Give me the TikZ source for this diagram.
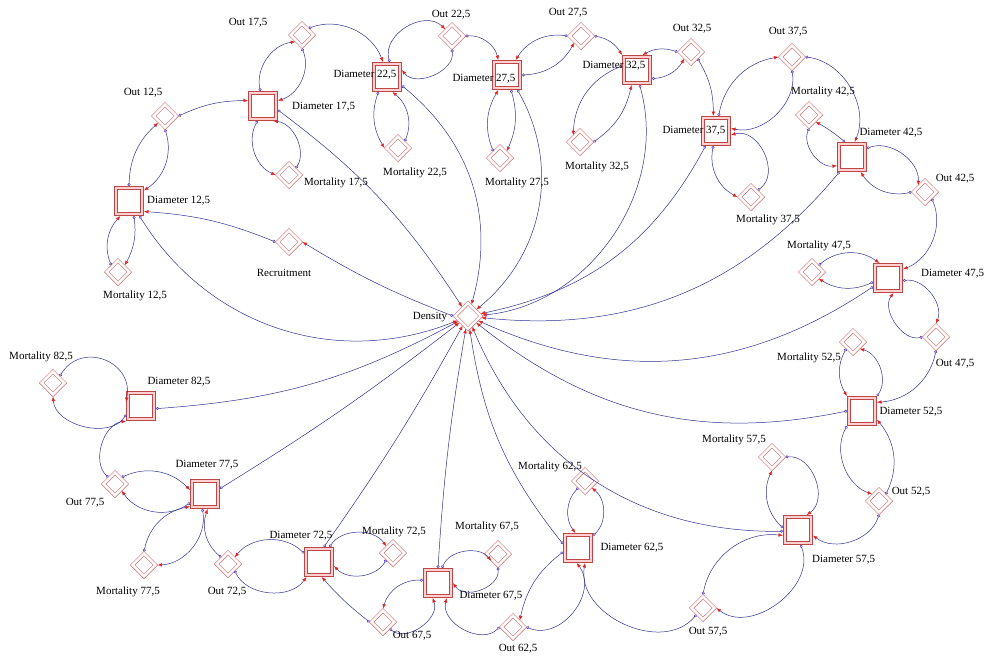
\documentclass[tikz,border=0pt]{standalone}
\usepackage{fontspec}
\setmainfont{Liberation Serif}
\usetikzlibrary{arrows.meta,shapes.geometric}
\definecolor{lblue}{RGB}{50,50,145}
\definecolor{cblue}{RGB}{90,70,190}
\definecolor{ared}{RGB}{225,35,35}
\definecolor{sqred}{RGB}{190,70,70}
\definecolor{dmred}{RGB}{212,108,108}
\begin{document}
\begin{tikzpicture}[x=1pt,y=-1pt,
 stockbox/.style={rectangle,draw=sqred,line width=0.9pt,double=red!18,double distance=1.8pt,minimum size=26pt,inner sep=0pt,fill=white,outer sep=2pt},
 auxdia/.style={diamond,aspect=1,draw=dmred,line width=0.65pt,double=white,double distance=2.4pt,minimum size=24pt,inner sep=0pt,outer sep=1.5pt},
 lnk/.style={draw=lblue,line width=0.5pt,arrows={Circle[open,length=3pt,width=3pt,color=cblue,line width=0.6pt]-Latex[length=4.5pt,width=3.6pt,color=ared]}},
 lbl/.style={font=\fontsize{11}{12}\selectfont,inner sep=0pt}]
\useasboundingbox[fill=white] (0,0) rectangle (985,657);
% stocks
\node[stockbox] (D12) at (129,201) {};
\node[stockbox] (D17) at (263,106) {};
\node[stockbox] (D22) at (387,77) {};
\node[stockbox] (D27) at (507,75) {};
\node[stockbox] (D32) at (637,70) {};
\node[stockbox] (D37) at (716,131) {};
\node[stockbox] (D42) at (852,157) {};
\node[stockbox] (D47) at (888,278) {};
\node[stockbox] (D52) at (862,411) {};
\node[stockbox] (D57) at (798,530) {};
\node[stockbox] (D62) at (578,548) {};
\node[stockbox] (D67) at (438,583) {};
\node[stockbox] (D72) at (319,562) {};
\node[stockbox] (D77) at (205,494) {};
\node[stockbox] (D82) at (141,406) {};
% variables
\node[auxdia] (O12) at (165,116) {};
\node[auxdia] (M12) at (118,272) {};
\node[auxdia] (Rec) at (289,242) {};
\node[auxdia] (O17) at (302,35) {};
\node[auxdia] (M17) at (289,175) {};
\node[auxdia] (O22) at (452,36) {};
\node[auxdia] (M22) at (398,148) {};
\node[auxdia] (O27) at (581,36) {};
\node[auxdia] (M27) at (500,158) {};
\node[auxdia] (O32) at (691,52) {};
\node[auxdia] (M32) at (580,142) {};
\node[auxdia] (O37) at (792,57) {};
\node[auxdia] (M37) at (751,197) {};
\node[auxdia] (M42) at (809,115) {};
\node[auxdia] (O42) at (925,192) {};
\node[auxdia] (M47) at (812,272) {};
\node[auxdia] (O47) at (936,337) {};
\node[auxdia] (M52) at (853,342) {};
\node[auxdia] (O52) at (879,501) {};
\node[auxdia] (M57) at (772,457) {};
\node[auxdia] (O57) at (703,608) {};
\node[auxdia] (M62) at (585,481) {};
\node[auxdia] (O62) at (513,627) {};
\node[auxdia] (M67) at (498,554) {};
\node[auxdia] (O67) at (383,622) {};
\node[auxdia] (M72) at (393,553) {};
\node[auxdia] (O72) at (228,564) {};
\node[auxdia] (M77) at (144,565) {};
\node[auxdia] (O77) at (115,484) {};
\node[auxdia] (M82) at (53,383) {};
\node[auxdia,minimum size=27pt] (Den) at (468,316) {};
% connectors 12,5
\draw[lnk] (D12.north) to[bend left=23] (O12.south west);
\draw[lnk] (O12.south) to[bend left=37] (D12.35);
\draw[lnk] (M12.north west) to[bend left=32] (D12.240);
\draw[lnk] (D12.-72) to[bend left=18] (M12.north east);
\draw[lnk] (Rec.west) to[bend right=9] (D12.-35);
\draw[lnk] (D12.-55) to[bend right=40] (Den);
\draw[lnk] (Den.west) to[bend left=5] (Rec.east);
% 17,5
\draw[lnk] (O12.east) to[bend left=12] (D17.160);
\draw[lnk] (D17.100) to[bend left=47] (O17.south west);
\draw[lnk] (O17.south) to[bend left=48] (D17.20);
\draw[lnk] (D17.-110) to[bend right=48] (M17.west);
\draw[lnk] (M17.north east) to[bend right=58] (D17.-55);
\draw[lnk] (D17.-15) to[bend left=10] (Den);
\draw[lnk] (O17.north east) to[bend left=45] (D22.105);
% 22,5
\draw[lnk] (D22.80) to[bend left=75,looseness=1.15] (O22.north west);
\draw[lnk] (O22.south) to[bend left=75,looseness=1.05] (D22.25);
\draw[lnk] (D22.-120) to[bend right=25] (M22.west);
\draw[lnk] (M22.north east) to[bend right=37] (D22.-70);
\draw[lnk] (D22.-30) to[bend left=33] (Den);
\draw[lnk] (O22.east) to[bend left=40] (D27.120);
% 27,5
\draw[lnk] (O27.west) to[bend right=33] (D27.60);
\draw[lnk] (D27.east) to[bend right=29] (O27.south west);
\draw[lnk] (M27.north west) to[bend left=26] (D27.-120);
\draw[lnk] (D27.-75) to[bend left=20] (M27.north east);
\draw[lnk] (D27.-55) to[bend left=40] (Den);
\draw[lnk] (O27.east) to[bend left=24] (D32.north west);
% 32,5
\draw[lnk] (O32.west) to[bend right=24] (D32.70);
\draw[lnk] (D32.-30) to[bend right=27] (O32.south west);
\draw[lnk] (D32.165) to[bend right=33] (M32.north west);
\draw[lnk] (M32.east) to[bend right=21] (D32.-110);
\draw[lnk] (D32.-80) to[bend left=50] (Den);
\draw[lnk] (O32.south east) to[bend left=15] (D37.100);
% 37,5
\draw[lnk] (D37.80) to[bend left=35] (O37.west);
\draw[lnk] (O37.south) to[bend left=56] (D37.10);
\draw[lnk] (M37.north east) to[bend right=80,looseness=1.2] (D37.-15);
\draw[lnk] (D37.-100) to[bend right=37] (M37.west);
\draw[lnk] (D37.-125) to[bend left=25] (Den);
\draw[lnk] (O37.east) to[bend left=53] (D42.80);
% 42,5
\draw[lnk] (D42.115) to[bend right=5] (M42.south east);
\draw[lnk] (M42.south) to[bend right=60] (D42.-150);
\draw[lnk] (D42.30) to[bend left=57] (O42.north west);
\draw[lnk] (O42.west) to[bend left=35] (D42.-60);
\draw[lnk] (D42.-130) to[bend left=28] (Den);
\draw[lnk] (O42.south east) to[bend left=46] (D47.30);
% 47,5
\draw[lnk] (M47.north east) to[bend left=38] (D47.120);
\draw[lnk] (D47.-165) to[bend left=28] (M47.south east);
\draw[lnk] (D47.-10) to[bend left=60] (O47.north);
\draw[lnk] (O47.west) to[bend left=70] (D47.-70);
\draw[lnk] (D47.-150) to[bend left=29] (Den);
\draw[lnk] (O47.south) to[bend left=37] (D52.30);
% 52,5
\draw[lnk] (M52.south west) to[bend right=30] (D52.135);
\draw[lnk] (D52.45) to[bend right=55] (M52.south east);
\draw[lnk] (D52.-135) to[bend right=50] (O52.north west);
\draw[lnk] (O52.north east) to[bend right=33] (D52.-30);
\draw[lnk] (D52.west) to[bend left=25] (Den);
\draw[lnk] (O52.south) to[bend left=55] (D57.-20);
% 57,5
\draw[lnk] (M57.east) to[bend left=75,looseness=1.13] (D57.60);
\draw[lnk] (D57.172) to[bend left=36] (M57.south);
\draw[lnk] (D57.185) to[bend left=34] (Den);
\draw[lnk] (O57.north) to[bend left=43] (D57.-160);
\draw[lnk] (D57.-80) to[bend left=75,looseness=1.08] (O57.east);
\draw[lnk] (O57.south west) to[bend left=75,looseness=1.1] (D62.-65);
% 62,5
\draw[lnk] (M62.south west) to[bend right=40] (D62.100);
\draw[lnk] (D62.40) to[bend right=50] (M62.south east);
\draw[lnk] (D62.-165) to[bend right=20] (O62.north east);
\draw[lnk] (O62.east) to[bend right=75,looseness=1.17] (D62.-95);
\draw[lnk] (D62.165) to[bend left=15] (Den);
\draw[lnk] (O62.west) to[bend left=75,looseness=1.1] (D67.-60);
% 67,5
\draw[lnk] (D67.75) to[bend left=60] (M67.south west);
\draw[lnk] (M67.south) to[bend left=75,looseness=1.1] (D67.east);
\draw[lnk] (D67.170) to[bend right=39] (O67.north);
\draw[lnk] (O67.south east) to[bend right=75,looseness=1.07] (D67.-110);
\draw[lnk] (D67.north) to[bend left=3] (Den);
\draw[lnk] (O67.west) to[bend left=5] (D72.-80);
% 72,5
\draw[lnk] (D72.55) to[bend left=56] (M72.north west);
\draw[lnk] (M72.south west) to[bend left=53] (D72.-15);
\draw[lnk] (D72.150) to[bend right=48] (O72.north east);
\draw[lnk] (O72.south east) to[bend right=60] (D72.-130);
\draw[lnk] (D72.72) to[bend right=3] (Den);
\draw[lnk] (O72.north west) to[bend left=35] (D77.-80);
% 77,5
\draw[lnk] (O77.north east) to[bend left=35] (D77.165);
\draw[lnk] (D77.-150) to[bend left=46] (O77.south east);
\draw[lnk] (M77.north) to[bend left=34] (D77.-140);
\draw[lnk] (D77.-100) to[bend left=49] (M77.east);
\draw[lnk] (D77.20) to[bend right=3] (Den);
\draw[lnk] (O77.north west) to[bend left=64] (D82.-135);
% 82,5
\draw[lnk] (M82.north east) to[bend left=80,looseness=1.5] (D82.165);
\draw[lnk] (D82.-150) to[bend left=72] (M82.south);
\draw[lnk] (D82.-10) to[bend right=12] (Den);
% labels
\node[lbl] (tO12) at (143,93) {Out 12,5};
\node[lbl,anchor=west] (tD12) at (147,201) {Diameter 12,5};
\node[lbl] (tM12) at (135,296) {Mortality 12,5};
\node[lbl] (tRec) at (284,273) {Recruitment};
\node[lbl] (tO17) at (248,23) {Out 17,5};
\node[lbl,anchor=west] (tD17) at (292,107) {Diameter 17,5};
\node[lbl,anchor=west] (tM17) at (304,183) {Mortality 17,5};
\node[lbl] (tO22) at (451,15) {Out 22,5};
\node[lbl] (tD22) at (365,75) {Diameter 22,5};
\node[lbl] (tM22) at (415,173) {Mortality 22,5};
\node[lbl] (tO27) at (568,13) {Out 27,5};
\node[lbl] (tD27) at (484,79) {Diameter 27,5};
\node[lbl] (tM27) at (517,183) {Mortality 27,5};
\node[lbl] (tO32) at (692,29) {Out 32,5};
\node[lbl] (tD32) at (614,66) {Diameter 32,5};
\node[lbl] (tM32) at (597,167) {Mortality 32,5};
\node[lbl] (tO37) at (788,32) {Out 37,5};
\node[lbl] (tD37) at (694,131) {Diameter 37,5};
\node[lbl] (tM37) at (768,220) {Mortality 37,5};
\node[lbl] (tM42) at (823,92) {Mortality 42,5};
\node[lbl] (tD42) at (891,133) {Diameter 42,5};
\node[lbl] (tO42) at (955,179) {Out 42,5};
\node[lbl] (tM47) at (819,246) {Mortality 47,5};
\node[lbl,anchor=west] (tD47) at (921,274) {Diameter 47,5};
\node[lbl] (tO47) at (955,364) {Out 47,5};
\node[lbl] (tM52) at (809,358) {Mortality 52,5};
\node[lbl] (tD52) at (911,412) {Diameter 52,5};
\node[lbl] (tO52) at (911,492) {Out 52,5};
\node[lbl] (tM57) at (734,440) {Mortality 57,5};
\node[lbl,anchor=west] (tD57) at (812,560) {Diameter 57,5};
\node[lbl] (tO57) at (708,632) {Out 57,5};
\node[lbl] (tM62) at (550,467) {Mortality 62,5};
\node[lbl] (tD62) at (632,548) {Diameter 62,5};
\node[lbl] (tO62) at (518,649) {Out 62,5};
\node[lbl] (tM67) at (487,527) {Mortality 67,5};
\node[lbl] (tD67) at (491,596) {Diameter 67,5};
\node[lbl] (tO67) at (412,636) {Out 67,5};
\node[lbl] (tM72) at (394,532) {Mortality 72,5};
\node[lbl] (tD72) at (301,536) {Diameter 72,5};
\node[lbl] (tO72) at (227,592) {Out 72,5};
\node[lbl] (tM77) at (128,592) {Mortality 77,5};
\node[lbl] (tD77) at (207,465) {Diameter 77,5};
\node[lbl] (tO77) at (85,503) {Out 77,5};
\node[lbl] (tD82) at (179,382) {Diameter 82,5};
\node[lbl] (tM82) at (41,357) {Mortality 82,5};
\node[lbl] (tDen) at (430,317) {Density};
\end{tikzpicture}
\end{document}
